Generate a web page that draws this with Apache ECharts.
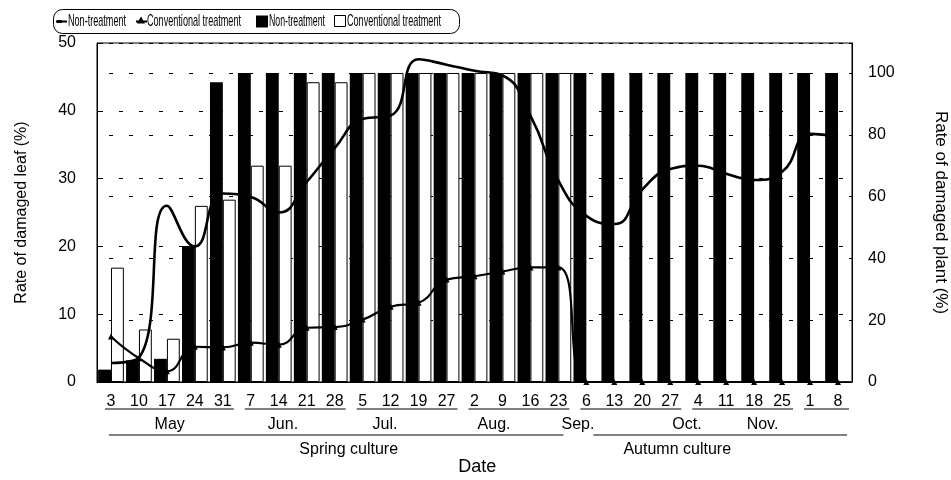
<!DOCTYPE html>
<html>
<head>
<meta charset="utf-8">
<script src="https://cdn.jsdelivr.net/npm/echarts@6/dist/echarts.min.js"></script>
<style>
html,body{margin:0;padding:0;background:#fff;}
#chart{width:951px;height:480px;}
</style>
</head>
<body>
<div id="chart"></div>
<script>
// ---- data ----
const CATEGORIES = ['5/3','5/10','5/17','5/24','5/31','6/7','6/14','6/21','6/28','7/5','7/12','7/19','7/27','8/2','8/9','8/16','8/23','9/6','9/13','9/20','9/27','10/4','10/11','10/18','10/25','11/1','11/8'];
const TICK_LABELS = ['3','10','17','24','31','7','14','21','28','5','12','19','27','2','9','16','23','6','13','20','27','4','11','18','25','1','8'];
// Rate of damaged leaf (%) - left axis, lines
const LEAF_NON = [2.8,3.6,26,20,27.8,27.3,25,29.5,34.5,38.8,39.3,47.6,46.8,45.9,45.2,39.3,29.7,24.5,23.3,28.4,31.4,31.9,30.7,29.8,31,36.6,36.2];
const LEAF_CONV = [6.7,3.5,1.6,5.2,5.1,5.8,5.5,8.0,8.1,9.2,11.1,11.7,15.1,15.6,16.3,16.9,16.9,0,0,0,0,0,0,0,0,0,0];
// Rate of damaged plant (%) - right axis, bars
const PLANT_NON = [4,7,7.5,44,97,100,100,100,100,100,100,100,100,100,100,100,100,100,100,100,100,100,100,100,100,100,100];
const PLANT_CONV = [37,17,14,57,59,70,70,97,97,100,100,100,100,100,100,100,100,0,0,0,0,0,0,0,0,0,0];
const LEFT_TICKS = [0,10,20,30,40,50];
const RIGHT_TICKS = [0,20,40,60,80,100];
const MONTHS = ['May','Jun.','Jul.','Aug.','Sep.','Oct.','Nov.'];
const MONTH_ANCHOR = [2.1,6.15,9.8,13.7,16.7,20.6,23.3];
const DATE_GROUPS = [[0,4],[5,8],[9,12],[13,16],[17,20],[21,24],[25,26]];
const SEASONS = ['Spring culture','Autumn culture'];
const SEASON_SPAN = [[0,16],[17,26]];
const SEASON_ANCHOR = [8.5,20.25];
const LEGEND_NAMES = ['Non-treatment','Conventional treatment','Non-treatment','Conventional treatment'];

const FONT = '"Liberation Sans", Arial, Helvetica, sans-serif';

const chart = echarts.init(document.getElementById('chart'), null, {renderer:'canvas'});
const option = {
  animation:false,
  backgroundColor:'#fff',
  textStyle:{fontFamily:FONT,color:'#000'},
  grid:{left:97,right:99,top:43,bottom:98,outerBoundsMode:'none',containLabel:false,
        show:true,borderColor:'#000',borderWidth:1,backgroundColor:'transparent'},
  xAxis:{
    type:'category', data:CATEGORIES,
    axisLine:{show:true,lineStyle:{color:'#000',width:1}},
    axisTick:{show:false},
    axisLabel:{color:'#000',fontSize:16,fontFamily:FONT,margin:12,interval:0,
      formatter:function(v,i){return TICK_LABELS[i];}},
    splitLine:{show:false}
  },
  yAxis:[
    {type:'value',min:0,max:50,interval:10,position:'left',
     name:'Rate of damaged leaf (%)',nameLocation:'middle',nameGap:67,
     nameTextStyle:{fontSize:16,color:'#000',fontFamily:FONT},
     axisLine:{show:true,lineStyle:{color:'#000'}},
     axisTick:{show:true,inside:true,length:3,lineStyle:{color:'#000'}},
     axisLabel:{color:'#000',fontSize:16,margin:21,
       formatter:function(v){return LEFT_TICKS.indexOf(v)>=0?String(v):'';}},
     splitLine:{show:true,lineStyle:{color:'#000',width:1,type:[4,16],dashOffset:-2}}
    },
    {type:'value',min:0,max:109.7,interval:20,position:'right',
     name:'Rate of damaged plant (%)',nameLocation:'middle',nameGap:80,nameRotate:-90,
     nameTextStyle:{fontSize:17,color:'#000',fontFamily:FONT},
     axisLine:{show:true,lineStyle:{color:'#000'}},
     axisTick:{show:true,inside:true,length:3,lineStyle:{color:'#000'}},
     axisLabel:{color:'#000',fontSize:16,margin:16,
       formatter:function(v){return RIGHT_TICKS.indexOf(v)>=0?String(v):'';}},
     splitLine:{show:true,lineStyle:{color:'#000',width:1,type:[4,16],dashOffset:-12}}
    }
  ],
  series:[
    {id:'plantNon',name:LEGEND_NAMES[2],type:'bar',yAxisIndex:1,data:PLANT_NON,
     barGap:'0%',barCategoryGap:'8%',itemStyle:{color:'#000'},z:2},
    {id:'plantConv',name:LEGEND_NAMES[3],type:'bar',yAxisIndex:1,data:PLANT_CONV,
     barGap:'0%',barCategoryGap:'8%',itemStyle:{color:'#fff',borderColor:'#000',borderWidth:1},z:2},
    {id:'leafNon',name:LEGEND_NAMES[0],type:'line',yAxisIndex:0,data:LEAF_NON,smooth:0.5,
     symbol:'none',lineStyle:{color:'#000',width:2.6},itemStyle:{color:'#000'},z:5},
    {id:'leafConv',name:LEGEND_NAMES[1],type:'line',yAxisIndex:0,data:LEAF_CONV,smooth:0.5,
     symbol:'triangle',symbolSize:6,showAllSymbol:true,
     lineStyle:{color:'#000',width:2.2},itemStyle:{color:'#000'},z:5}
  ]
};
chart.setOption(option);

// ---- decorations (layout only) ----
const x0 = chart.convertToPixel({xAxisIndex:0}, CATEGORIES[0]);
const x1 = chart.convertToPixel({xAxisIndex:0}, CATEGORIES[1]);
const cw = x1 - x0;
const cx = i => x0 + i*cw;
const g = [];
const lineStyle = {stroke:'#000',lineWidth:1};
DATE_GROUPS.forEach(function(gr){
  g.push({type:'line',shape:{x1:cx(gr[0])-6,y1:409,x2:cx(gr[1])+11,y2:409},style:lineStyle,silent:true});
});
MONTHS.forEach(function(m,i){
  g.push({type:'text',x:cx(MONTH_ANCHOR[i]),y:425,style:{text:m,font:'16px '+FONT,fill:'#000',align:'center',verticalAlign:'middle'},silent:true});
});
g.push({type:'line',shape:{x1:cx(SEASON_SPAN[0][0])-2,y1:435,x2:cx(SEASON_SPAN[0][1])+5,y2:435},style:lineStyle,silent:true});
g.push({type:'line',shape:{x1:cx(SEASON_SPAN[1][0])+7,y1:435,x2:cx(SEASON_SPAN[1][1])+9,y2:435},style:lineStyle,silent:true});
SEASONS.forEach(function(s,i){
  g.push({type:'text',x:cx(SEASON_ANCHOR[i]),y:450,style:{text:s,font:'16px '+FONT,fill:'#000',align:'center',verticalAlign:'middle'},silent:true});
});
g.push({type:'text',x:cx(13.1),y:467,style:{text:'Date',font:'18px '+FONT,fill:'#000',align:'center',verticalAlign:'middle'},silent:true});

// legend (narrow lettering, as in the reference)
const LFONT = '17px ' + FONT;
const mctx = document.createElement('canvas').getContext('2d');
mctx.font = LFONT;
function ltext(str, x, w){
  const tw = mctx.measureText(str).width;
  return {type:'text',x:x,y:21.5,scaleX:w/tw,style:{text:str,font:LFONT,fill:'#000',align:'left',verticalAlign:'middle'},silent:true};
}
g.push({type:'rect',shape:{x:53.5,y:9.5,width:406,height:24,r:9},style:{fill:'none',stroke:'#000',lineWidth:1},silent:true});
// item 1: line
g.push({type:'line',shape:{x1:56,y1:21.5,x2:67,y2:21.5},style:{stroke:'#000',lineWidth:2},silent:true});
g.push({type:'rect',shape:{x:57,y:20,width:5,height:3},style:{fill:'#000'},silent:true});
g.push(ltext(LEGEND_NAMES[0],68,58));
// item 2: line + triangle
g.push({type:'line',shape:{x1:136,y1:21.5,x2:147,y2:21.5},style:{stroke:'#000',lineWidth:2},silent:true});
g.push({type:'polygon',shape:{points:[[141,16.5],[145,23.5],[137,23.5]]},style:{fill:'#000'},silent:true});
g.push(ltext(LEGEND_NAMES[1],147,94));
// item 3: black square
g.push({type:'rect',shape:{x:256,y:15.5,width:12,height:12},style:{fill:'#000'},silent:true});
g.push(ltext(LEGEND_NAMES[2],269,56));
// item 4: white square
g.push({type:'rect',shape:{x:334.5,y:15.5,width:11,height:11},style:{fill:'#fff',stroke:'#000',lineWidth:1},silent:true});
g.push(ltext(LEGEND_NAMES[3],347,94));

chart.setOption({graphic:g});
</script>
</body>
</html>
